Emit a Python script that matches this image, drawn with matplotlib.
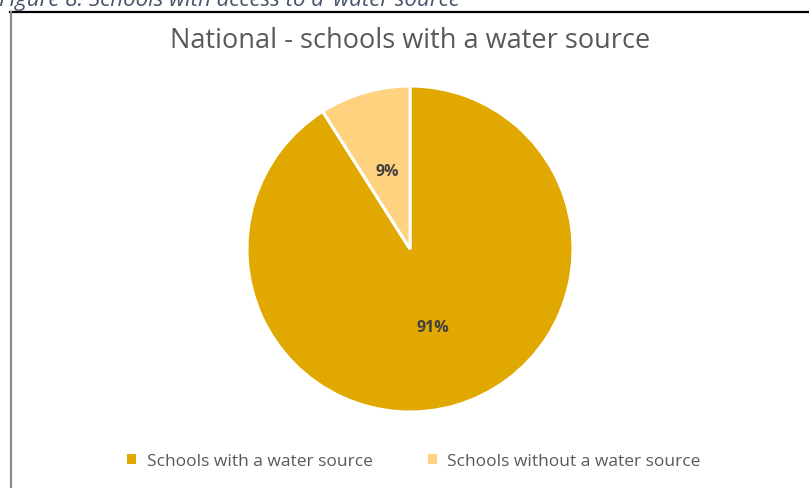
import matplotlib
matplotlib.use("Agg")
import matplotlib.pyplot as plt
from matplotlib.patches import Rectangle
from matplotlib.lines import Line2D

categories = ["Schools with a water source", "Schools without a water source"]
values = [91, 9]
pct_labels = ["91%", "9%"]
colors = ["#E0A800", "#FFD27F"]

W, H = 809, 489
fig = plt.figure(figsize=(W / 100, H / 100), dpi=100)
fig.patch.set_facecolor("white")

def fx(px):
    return px / W

def fy(py):
    return 1 - py / H

# caption (cut off at top, as in the source)
fig.text(fx(-1), fy(6), "Figure 8: Schools with access to a \u2018water source",
         fontsize=16, style="italic", color="#44546A", family="Open Sans",
         ha="left", va="baseline")

# chart border: top black line, left gray line
fig.add_artist(Line2D([fx(10), fx(808)], [fy(13), fy(13)], color="black", lw=1.6,
                      transform=fig.transFigure))
fig.add_artist(Line2D([fx(10.5), fx(10.5)], [fy(13), fy(489)], color="#8C8C8C", lw=1.6,
                      transform=fig.transFigure))

# title
fig.text(fx(410), fy(41), "National - schools with a water source", fontsize=19.5,
         color="#595959", family="Open Sans", ha="center", va="center")

# pie
cx, cy, r = 410, 250, 163
ax = fig.add_axes([fx(cx - r), fy(cy + r), (2 * r) / W, (2 * r) / H])
wedges, texts, autotexts = ax.pie(
    values, colors=colors, startangle=90, counterclock=False,
    labels=None, autopct=lambda p: "", pctdistance=0.5,
    wedgeprops=dict(edgecolor="white", linewidth=2.2), radius=1.0)
for at, lab in zip(autotexts, pct_labels):
    at.set_text(lab)
    at.set_fontsize(11.5)
    at.set_fontweight("bold")
    at.set_color("#404040")
    at.set_family("Open Sans")
ax.set_xlim(-1.0, 1.0)
ax.set_ylim(-1.0, 1.0)
ax.set_aspect("auto")
ax.axis("off")

# legend
handles = [Rectangle((0, 0), 1, 1, facecolor=c, edgecolor="none") for c in colors]
leg = fig.legend(handles, categories, loc="center", bbox_to_anchor=(fx(414), fy(462)),
                 ncol=2, frameon=False, handlelength=0.5, handleheight=0.5,
                 handletextpad=0.6, columnspacing=3.2,
                 prop=dict(family="Open Sans", size=12.5))
for t in leg.get_texts():
    t.set_color("#595959")

fig.savefig("out.png", dpi=100, facecolor="white")
